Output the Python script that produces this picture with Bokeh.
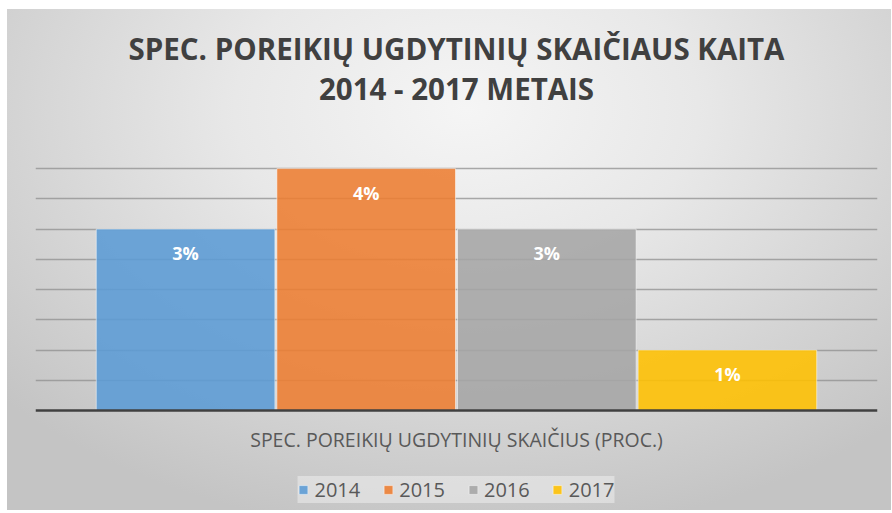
from bokeh.plotting import figure
from bokeh.models import (ColumnDataSource, FactorRange, LabelSet, Legend,
                          LegendItem, Title, Range1d)
from bokeh.core.properties import value
from bokeh.embed import file_html
from bokeh.resources import INLINE

# ---- data ----
years = ["2014", "2015", "2016", "2017"]
values = [3, 4, 3, 1]
labels = ["3%", "4%", "3%", "1%"]
colors = ["#5B9BD5", "#ED7D31", "#A5A5A5", "#FFC000"]
title_line1 = "SPEC. POREIKIŲ UGDYTINIŲ SKAIČIAUS KAITA"
title_line2 = "2014 - 2017 METAIS"
x_label = "SPEC. POREIKIŲ UGDYTINIŲ SKAIČIUS (PROC.)"

FONT = "Open Sans"

src = ColumnDataSource(dict(years=years, values=values, labels=labels, colors=colors))

# frame: 254 px for 0..4.2 plus 100 px below the baseline for axis title + legend
px_per_unit = 254 / 4.2
p = figure(frame_width=842, frame_height=354, output_backend="svg", toolbar_location=None,
           x_range=FactorRange(factors=years, range_padding=0.331,
                               range_padding_units="absolute"),
           y_range=Range1d(-100 / px_per_unit, 4.2),
           min_border_left=28, min_border_right=14, min_border_top=147,
           min_border_bottom=0)
p.margin = (9, 0, 0, 7)

p.styles = {"background": "radial-gradient(ellipse 75% 90% at 52% 20%, #f5f5f5 0%, #e8e8e8 35%, #d4d4d4 68%, #c4c4c4 95%)"}
p.background_fill_alpha = 0
p.border_fill_alpha = 0
p.outline_line_color = None

r = p.vbar(x="years", top="values", width=0.989, source=src, fill_color="colors",
           fill_alpha=0.88, line_color="#ffffff", line_alpha=0.5, line_width=1)

p.add_layout(LabelSet(x="years", y="values", text="labels", source=src,
                      y_offset=-24, text_align="center", text_baseline="middle",
                      text_color="#ffffff", text_font=value(FONT),
                      text_font_style="bold", text_font_size="18px"))

# titles (stacked outward from the frame: spacer, line 2, line 1)
spacer = Title(text=" ", text_font_size="1px", standoff=46)
t2 = Title(text=title_line2, align="center", text_font=FONT, text_font_style="bold",
           text_font_size="29.5px", text_color="#404040", standoff=-3)
t1 = Title(text=title_line1, align="center", text_font=FONT, text_font_style="bold",
           text_font_size="29.5px", text_color="#404040", standoff=-3)
p.title = None
p.add_layout(spacer, "above")
p.add_layout(t2, "above")
p.add_layout(t1, "above")

# axes & grid
p.yaxis.visible = False
p.xaxis.fixed_location = 0
p.xaxis.ticker = []
p.xaxis.major_tick_line_color = None
p.xaxis.minor_tick_line_color = None
p.xaxis.major_tick_out = 0
p.xaxis.major_label_standoff = 0
p.xaxis.major_label_text_font_size = "0px"
p.xaxis.axis_line_color = "#404040"
p.xaxis.axis_line_width = 2.5
p.xaxis.axis_label = x_label
p.xaxis.axis_label_text_font = FONT
p.xaxis.axis_label_text_font_style = "normal"
p.xaxis.axis_label_text_font_size = "19.5px"
p.xaxis.axis_label_text_color = "#595959"
p.xaxis.axis_label_standoff = 15
p.xgrid.grid_line_color = None
p.ygrid.ticker = [0.5, 1, 1.5, 2, 2.5, 3, 3.5, 4]
p.ygrid.grid_line_color = "#8f8f8f"
p.ygrid.grid_line_alpha = 0.75
p.ygrid.grid_line_width = 1.5

# legend
items = []
for i, y in enumerate(years):
    items.append(LegendItem(label=y, renderers=[r], index=i))
legend = Legend(items=items, orientation="horizontal", location="bottom_center",
                label_text_font=FONT, label_text_font_size="20px",
                label_text_color="#595959", glyph_width=11, glyph_height=11,
                label_standoff=6, spacing=22, padding=12, margin=7,
                background_fill_color="#f2f2f2", background_fill_alpha=0.5,
                border_line_color=None)
p.add_layout(legend, "center")

open("out.html", "w").write(file_html(p, INLINE))
